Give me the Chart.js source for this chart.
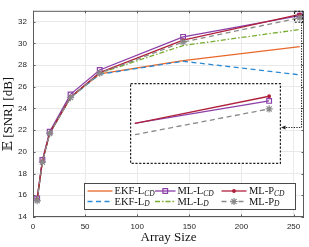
<!DOCTYPE html>
<html><head><meta charset="utf-8">
<script src="https://cdn.jsdelivr.net/npm/chart.js@4"></script>
<style>
html,body{margin:0;padding:0;background:#fff;}
#wrap{position:relative;width:309px;height:247px;overflow:hidden;}
#main{position:absolute;left:0;top:0;}
#insetBox{position:absolute;left:130px;top:83px;width:151px;height:81px;background:#fff;}
#inset{position:absolute;left:0;top:0;}
</style></head><body>
<div id="wrap">
<canvas id="main" width="309" height="247"></canvas>
<div id="insetBox"><canvas id="inset" width="151" height="81"></canvas></div>
</div>
<script>
// ---- data ----
const arraySize = [4, 9, 16, 36, 64, 144, 256];
const ekfLCD = [15.7, 19.1, 21.7, 25.0, 27.2, 28.4, 29.7];
const ekfLD  = [15.7, 19.1, 21.7, 25.0, 27.15, 28.35, 27.1];
const mlLCD  = [15.7, 19.25, 21.85, 25.3, 27.55, 30.6, 32.55];
const mlLD   = [15.6, 19.1, 21.7, 25.05, 27.25, 29.8, 31.28];
const mlPCD  = [15.65, 19.15, 21.75, 25.05, 27.3, 30.3, 32.66];
const mlPD   = [15.5, 19.05, 21.7, 25.0, 27.25, 30.12, 32.36];
const seriesLabels = ['EKF-L_CD', 'EKF-L_D', 'ML-L_CD', 'ML-L_D', 'ML-P_CD', 'ML-P_D'];
const xTicks = [0, 50, 100, 150, 200, 250];
const yTicks = [14, 16, 18, 20, 22, 24, 26, 28, 30, 32];
const xTitle = 'Array Size';
const yTitle = '\u{1D53C} [SNR] [dB]';

const pts = ys => ys.map((y, i) => ({x: arraySize[i], y}));
const styles = [
  {c:'#E8682A', dash:[], ps:false},
  {c:'#2B8AD3', dash:[5,3.5], ps:false},
  {c:'#8B3FA8', dash:[], ps:'rect', r:3.3},
  {c:'#77AC30', dash:[5,2,1.5,2], ps:false},
  {c:'#B0213C', dash:[], ps:'circle', r:1.3},
  {c:'#8A8A8A', dash:[5,3.5], ps:'star', r:3.6}
];
const allSeries = [ekfLCD, ekfLD, mlLCD, mlLD, mlPCD, mlPD];
function makeDatasets(idx) {
  return idx.map(i => {
    const s = styles[i];
    return {
      label: seriesLabels[i], data: pts(allSeries[i]), order: 5 - i,
      borderColor: s.c, backgroundColor: s.c, borderWidth: 1.3, borderDash: s.dash,
      tension: 0, fill: false,
      pointStyle: s.ps || 'circle', pointRadius: s.ps ? s.r : 0, pointHoverRadius: 0,
      pointBorderColor: s.c, pointBackgroundColor: s.ps === 'circle' ? s.c : 'rgba(0,0,0,0)',
      pointBorderWidth: 1.2
    };
  });
}

const serif = '"Liberation Serif", "DejaVu Serif", serif';
const sans = '"Liberation Sans", Arial, sans-serif';

const boxPlugin = {
  id: 'boxPlugin',
  afterDraw(chart) {
    const {ctx, chartArea: a, scales: {x, y}} = chart;
    ctx.save();
    // axes box and inward ticks
    ctx.strokeStyle = '#5a5a5a'; ctx.lineWidth = 1; ctx.setLineDash([]);
    ctx.strokeRect(a.left + 0.5, a.top + 0.5, a.right - a.left - 1, a.bottom - a.top - 1);
    ctx.beginPath();
    xTicks.forEach(v => { const px = Math.round(x.getPixelForValue(v)) + 0.5;
      ctx.moveTo(px, a.bottom); ctx.lineTo(px, a.bottom - 2.5);
      ctx.moveTo(px, a.top); ctx.lineTo(px, a.top + 2.5); });
    yTicks.forEach(v => { const py = Math.round(y.getPixelForValue(v)) + 0.5;
      ctx.moveTo(a.left, py); ctx.lineTo(a.left + 2.5, py);
      ctx.moveTo(a.right, py); ctx.lineTo(a.right - 2.5, py); });
    ctx.stroke();

    // zoom marker rectangle + dotted arrow to the inset
    const rx0 = x.getPixelForValue(251), rx1 = x.getPixelForValue(258.6);
    const ry0 = y.getPixelForValue(32.95), ry1 = y.getPixelForValue(31.95);
    ctx.strokeStyle = '#222'; ctx.lineWidth = 1.1; ctx.setLineDash([2, 1.5]);
    ctx.strokeRect(rx0, ry0, rx1 - rx0, ry1 - ry0);
    ctx.setLineDash([1.3, 1.3]);
    const insetRight = 281, arrowY = 127.5;
    ctx.beginPath(); ctx.moveTo(rx1 - 1, ry1); ctx.lineTo(rx1 - 1, arrowY); ctx.lineTo(insetRight + 4, arrowY); ctx.stroke();
    ctx.setLineDash([]); ctx.fillStyle = '#222';
    ctx.beginPath(); ctx.moveTo(insetRight, arrowY); ctx.lineTo(insetRight + 4.5, arrowY - 2); ctx.lineTo(insetRight + 4.5, arrowY + 2); ctx.closePath(); ctx.fill();

    // legend
    const bx1 = a.right - 8, by1 = a.bottom - 7, bx0 = bx1 - 212, by0 = by1 - 27;
    ctx.fillStyle = '#fff'; ctx.fillRect(bx0, by0, bx1 - bx0, by1 - by0);
    ctx.strokeStyle = '#4a4a4a'; ctx.lineWidth = 1;
    ctx.strokeRect(Math.round(bx0) + 0.5, Math.round(by0) + 0.5, Math.round(bx1 - bx0) - 1, Math.round(by1 - by0) - 1);
    const cols = [{s0:3.5, s1:28.5, t:30.5}, {s0:71, s1:91.5, t:93.5}, {s0:137.5, s1:162.5, t:165}];
    const rows = [8, 18.5];
    const order = [[0, 0, 0], [1, 0, 1], [2, 1, 0], [3, 1, 1], [4, 2, 0], [5, 2, 1]];
    const metas = chart.data.datasets;
    order.forEach(([di, ci, ri]) => {
      const ds = metas[di], c = cols[ci], yy = by0 + rows[ri];
      ctx.strokeStyle = ds.borderColor; ctx.lineWidth = 1.3; ctx.setLineDash(ds.borderDash || []);
      ctx.beginPath(); ctx.moveTo(bx0 + c.s0, yy); ctx.lineTo(bx0 + c.s1, yy); ctx.stroke();
      ctx.setLineDash([]);
      if (ds.pointRadius > 0) {
        ctx.fillStyle = ds.pointBackgroundColor; ctx.strokeStyle = ds.pointBorderColor; ctx.lineWidth = ds.pointBorderWidth;
        Chart.helpers.drawPoint(ctx, {pointStyle: ds.pointStyle, radius: ds.pointRadius, borderWidth: ds.pointBorderWidth, rotation: 0},
          bx0 + (c.s0 + c.s1) / 2, yy);
      }
      const [main, sub] = ds.label.split('_');
      ctx.fillStyle = '#111'; ctx.textBaseline = 'middle'; ctx.textAlign = 'left';
      ctx.font = '10.5px ' + serif;
      ctx.fillText(main, bx0 + c.t, yy + 0.5);
      const w = ctx.measureText(main).width;
      ctx.font = 'italic 7.5px ' + serif;
      ctx.fillText(sub, bx0 + c.t + w, yy + 3);
    });
    ctx.restore();
  }
};

new Chart(document.getElementById('main'), {
  type: 'line',
  data: {datasets: makeDatasets([0, 1, 2, 3, 4, 5])},
  options: {
    responsive: false, animation: false, devicePixelRatio: 1,
    layout: {padding: {top: 3, right: 5, left: 0, bottom: 0}},
    plugins: {legend: {display: false}, tooltip: {enabled: false}},
    scales: {
      x: {
        type: 'linear', min: 0, max: 260,
        afterBuildTicks: s => { s.ticks = xTicks.map(v => ({value: v})); },
        afterFit: s => { s.height = 30; },
        grid: {color: '#e9e9e9', lineWidth: 1, drawTicks: false},
        border: {display: false},
        ticks: {color: '#262626', font: {family: sans, size: 8}, padding: 5, maxRotation: 0},
        title: {display: true, text: xTitle, color: '#111', font: {family: serif, size: 13}, padding: {top: 0, bottom: 2}}
      },
      y: {
        type: 'linear', min: 14, max: 33,
        afterBuildTicks: s => { s.ticks = yTicks.map(v => ({value: v})); },
        afterFit: s => { s.width = 33; },
        grid: {color: '#e9e9e9', lineWidth: 1, drawTicks: false},
        border: {display: false},
        ticks: {color: '#262626', font: {family: sans, size: 8}, padding: 6},
        title: {display: true, text: yTitle, color: '#111', font: {family: serif, size: 13}, padding: {top: 1, bottom: 0}}
      }
    }
  },
  plugins: [boxPlugin]
});

// ---- magnified inset ----
const insetBorder = {
  id: 'insetBorder',
  afterDraw(chart) {
    const ctx = chart.ctx; ctx.save();
    ctx.strokeStyle = '#222'; ctx.lineWidth = 1.2; ctx.setLineDash([2.2, 1.6]);
    ctx.strokeRect(0.6, 0.6, chart.width - 1.2, chart.height - 1.2);
    ctx.restore();
  }
};
new Chart(document.getElementById('inset'), {
  type: 'line',
  data: {datasets: makeDatasets([2, 4, 5])},
  options: {
    responsive: false, animation: false, devicePixelRatio: 1,
    layout: {padding: 0},
    plugins: {legend: {display: false}, tooltip: {enabled: false}},
    scales: {
      x: {type: 'linear', min: 225.5, max: 257.6, display: false},
      y: {type: 'linear', min: 31.17, max: 32.86, display: false}
    }
  },
  plugins: [insetBorder]
});
</script>
</body></html>
